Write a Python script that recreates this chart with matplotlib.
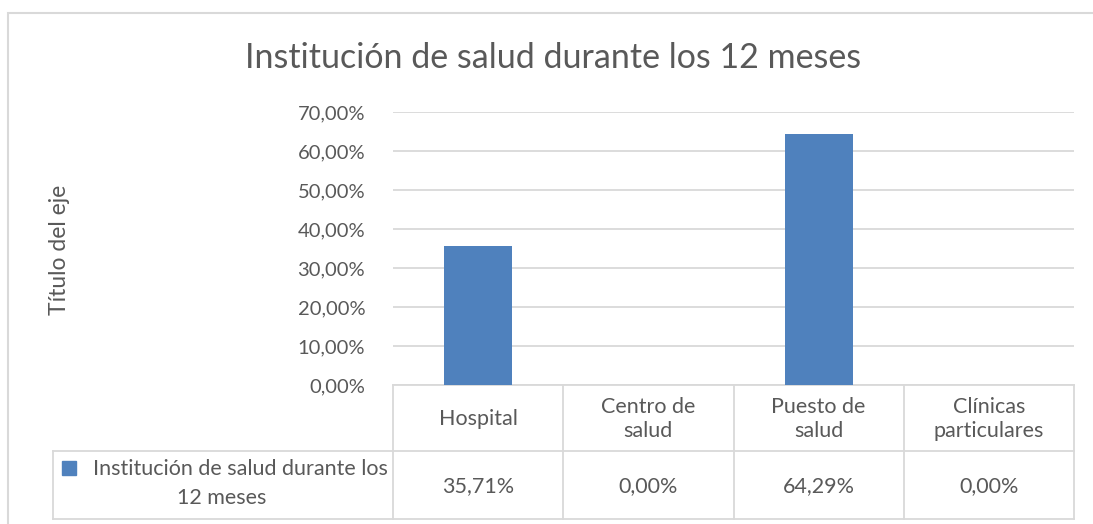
import matplotlib.pyplot as plt
from matplotlib.ticker import FuncFormatter

categories = ["Hospital", "Centro de\nsalud", "Puesto de\nsalud", "Clínicas\nparticulares"]
values = [35.71, 0.00, 64.29, 0.00]
value_labels = ["35,71%", "0,00%", "64,29%", "0,00%"]
series_line1 = "Institución de salud durante los"
series_line2 = "12 meses"
title = "Institución de salud durante los 12 meses"

plt.rcParams['font.family'] = ['Lato', 'DejaVu Sans']
gray = '#595959'
line_c = '#d9d9d9'
blue = '#4f81bd'

W, H = 1093, 524
fig = plt.figure(figsize=(W / 100, H / 100), dpi=100)

# plot area in pixels: x 393..1074, y 112..385
ax = fig.add_axes([393 / W, 1 - 385 / H, (1074 - 393) / W, (385 - 112) / H])
x = list(range(len(categories)))
ax.bar(x, values, width=0.4, color=blue, zorder=3)
ax.set_xlim(-0.5, len(categories) - 0.5)
ax.set_ylim(0, 70)
ax.set_yticks(range(0, 71, 10))
ax.yaxis.set_major_formatter(FuncFormatter(lambda v, p: f"{v:.2f}".replace('.', ',') + '%'))
ax.grid(axis='y', color=line_c, lw=1.3, zorder=0)
ax.set_xticks([])
for s in ax.spines.values():
    s.set_visible(False)
ax.tick_params(axis='y', length=0, pad=20, labelsize=14.5, labelcolor=gray)

# data table under the plot
pw = 1074 - 393
ah = 385 - 112
row1 = (385 - 451) / ah
row2 = (385 - 519) / ah
left = (53 - 393) / pw
tr = ax.get_xaxis_transform()
kw = dict(color=line_c, lw=1.3, clip_on=False, zorder=1)
for i in range(len(categories) + 1):
    ax.plot([i - 0.5, i - 0.5], [0, row2], transform=tr, **kw)
ax.plot([-0.5, len(categories) - 0.5], [0, 0], transform=tr, **kw)
ax.plot([left, 1], [row1, row1], transform=ax.transAxes, **kw)
ax.plot([left, 1], [row2, row2], transform=ax.transAxes, **kw)
ax.plot([left, left], [row1, row2], transform=ax.transAxes, **kw)
for i, (c, v) in enumerate(zip(categories, value_labels)):
    ax.text(i, (385 - 419) / ah, c, transform=tr, ha='center', va='center',
            fontsize=15.5, color=gray, linespacing=1.3)
    ax.text(i, (385 - 486) / ah, v, transform=tr, ha='center', va='center',
            fontsize=15.5, color=gray)
ax.text((388 - 393) / pw, (385 - 469) / ah, series_line1, transform=ax.transAxes,
        ha='right', va='center', fontsize=15.5, color=gray)
ax.text((222 - 393) / pw, (385 - 498) / ah, series_line2, transform=ax.transAxes,
        ha='center', va='center', fontsize=15.5, color=gray)
ax.plot([(69 - 393) / pw], [(385 - 468) / ah], marker='s', ms=9.5, color=blue,
        transform=ax.transAxes, clip_on=False)

fig.text(553 / W, 1 - 58 / H, title, ha='center', va='center', fontsize=24.5, color=gray)
fig.text(60 / W, 1 - 250 / H, "Título del eje", rotation=90, ha='center', va='center',
         fontsize=16.5, color=gray)

# outer chart border
fig.add_artist(plt.Rectangle((7.5 / W, -0.1), 1.2, 1 - 13 / H + 0.1, transform=fig.transFigure,
                             fill=False, ec=line_c, lw=1.5))

fig.savefig('out.png', dpi=100)
